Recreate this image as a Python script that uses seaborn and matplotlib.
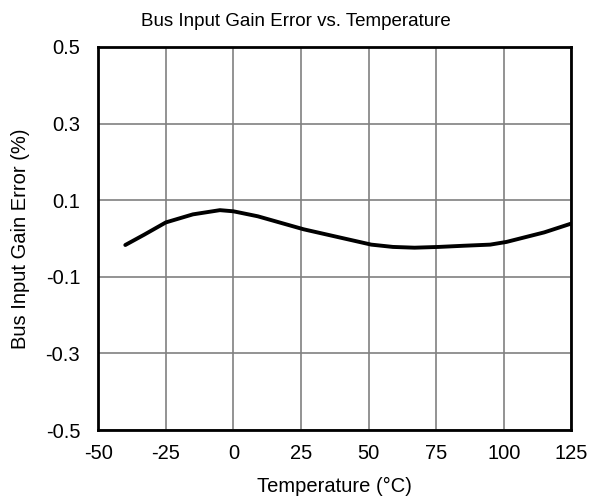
import matplotlib
matplotlib.use("Agg")
import matplotlib.pyplot as plt
import pandas as pd
import seaborn as sns

# values
temperature = [-40, -33, -25, -15, -5, 0, 9, 14, 26, 41, 51, 59, 67, 76, 85, 95, 101, 115, 125]
gain_error = [-0.017, 0.010, 0.042, 0.063, 0.074, 0.071, 0.058, 0.048, 0.024, 0.000,
              -0.016, -0.022, -0.024, -0.022, -0.019, -0.016, -0.009, 0.016, 0.039]
x_ticks = [-50, -25, 0, 25, 50, 75, 100, 125]
y_ticks = [-0.5, -0.3, -0.1, 0.1, 0.3, 0.5]

sns.set_style("white")
plt.rcParams["font.family"] = ["Liberation Sans", "DejaVu Sans"]
plt.rcParams.update({"text.color": "black", "axes.labelcolor": "black",
                     "xtick.color": "black", "ytick.color": "black"})

df = pd.DataFrame({"T": temperature, "err": gain_error})

fig = plt.figure(figsize=(5.92, 5.0), dpi=100)
ax = fig.add_axes([0.166, 0.14, 0.799, 0.766])

sns.lineplot(data=df, x="T", y="err", color="black", linewidth=2.8, ax=ax)

ax.set_xlim(-50, 125)
ax.set_ylim(-0.5, 0.5)
ax.set_xticks(x_ticks)
ax.set_yticks(y_ticks)
ax.set_xticklabels([str(t) for t in x_ticks])
ax.set_yticklabels([f"{t:.1f}" for t in y_ticks])
ax.tick_params(length=0, labelsize=14.5, labelcolor="black")
ax.tick_params(axis="x", pad=10)
ax.tick_params(axis="y", pad=13)
ax.grid(True, color="#808080", linewidth=1.2)
ax.set_axisbelow(True)
for s in ax.spines.values():
    s.set_color("black")
    s.set_linewidth(2)

ax.set_xlabel("Temperature (°C)", fontsize=14.5, labelpad=10)
ax.set_ylabel("Bus Input Gain Error (%)", fontsize=14.5, labelpad=11)
fig.text(0.5, 1 - 21 / 500, "Bus Input Gain Error vs. Temperature",
         fontsize=13.5, ha="center", va="center")

fig.savefig("out.png", dpi=100)
